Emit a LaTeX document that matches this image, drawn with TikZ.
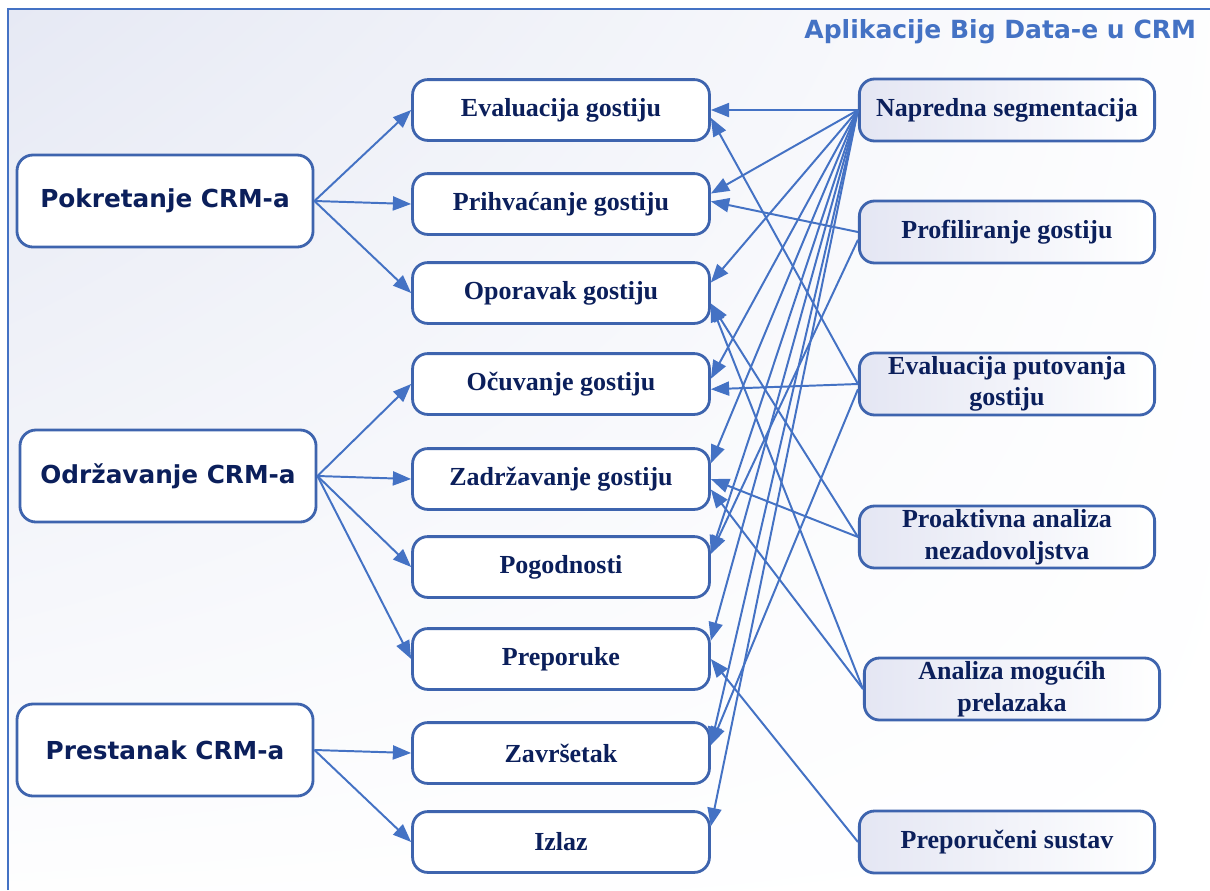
\documentclass[tikz,border=0pt]{standalone}
\usepackage{fontspec}
\setmainfont{Liberation Serif}
\newfontfamily\stagefont{DejaVu Sans}
\usetikzlibrary{arrows.meta,shadings}

\definecolor{lineblue}{HTML}{4472C4}
\definecolor{edgeblue}{HTML}{3E64AE}
\definecolor{navy}{HTML}{0B1F5B}
\definecolor{bgtint}{HTML}{E6E9F4}
\definecolor{boxtint}{HTML}{E4E6F3}

\begin{document}
\begin{tikzpicture}[x=0.025cm,y=-0.025cm,
		stage/.style={draw=edgeblue,line width=2pt,rounded corners=0.4cm,fill=white,minimum width=7.4cm,minimum height=2.3cm,text=navy,font=\stagefont\bfseries\fontsize{17.6}{20}\selectfont},
		phase/.style={draw=edgeblue,line width=2pt,rounded corners=0.38cm,fill=white,minimum width=7.42cm,minimum height=1.52cm,text=navy,font=\bfseries\fontsize{18.5}{21}\selectfont},
		usecase/.style={draw=edgeblue,line width=2pt,rounded corners=0.38cm,left color=boxtint,right color=white,minimum width=7.38cm,minimum height=1.55cm,align=center,inner sep=1pt,text=navy,font=\bfseries\fontsize{18.5}{22.5}\selectfont},
		conn/.style={->,>={Triangle[length=13pt,width=10pt]},draw=lineblue,line width=1.4pt}]
	\useasboundingbox (0,0) rectangle (1210,890);
	\shade[upper left=bgtint,upper right=white!94!bgtint,lower left=white!95!bgtint,lower right=white] (8,9) rectangle (1210,890);
	\draw[lineblue,line width=1pt] (8,890) -- (8,9) -- (1210,9);
	\node[anchor=east,text=lineblue,font=\stagefont\bfseries\fontsize{17.8}{20}\selectfont] (title) at (1201,32) {Aplikacije Big Data-e u CRM};

	% stages of the CRM
	\node[stage] (l1) at (165,201) {Pokretanje CRM-a};
	\node[stage] (l2) at (168,476) {Održavanje CRM-a};
	\node[stage] (l3) at (165,750) {Prestanak CRM-a};

	% phases
	\node[phase] (m1) at (561,110) {Evaluacija gostiju};
	\node[phase] (m2) at (561,204) {Prihvaćanje gostiju};
	\node[phase] (m3) at (561,293) {Oporavak gostiju};
	\node[phase] (m4) at (561,384) {Očuvanje gostiju};
	\node[phase] (m5) at (561,479) {Zadržavanje gostiju};
	\node[phase] (m6) at (561,567) {Pogodnosti};
	\node[phase] (m7) at (561,659) {Preporuke};
	\node[phase] (m8) at (561,753) {Završetak};
	\node[phase] (m9) at (561,842) {Izlaz};

	% big data applications
	\node[usecase] (r1) at (1007,110) {Napredna segmentacija};
	\node[usecase] (r2) at (1007,232) {Profiliranje gostiju};
	\node[usecase] (r3) at (1007,384) {Evaluacija putovanja\\gostiju};
	\node[usecase] (r4) at (1007,537) {Proaktivna analiza\\nezadovoljstva};
	\node[usecase] (r5) at (1012,689) {Analiza mogućih\\prelazaka};
	\node[usecase] (r6) at (1007,842) {Preporučeni sustav};

	\draw (l1.east) edge[conn] (m1.west);
	\draw (l1.east) edge[conn] (m2.west);
	\draw (l1.east) edge[conn] (m3.west);
	\draw (l2.east) edge[conn] (m4.west);
	\draw (l2.east) edge[conn] (m5.west);
	\draw (l2.east) edge[conn] (m6.west);
	\draw (l2.east) edge[conn] (m7.west);
	\draw (l3.east) edge[conn] (m8.west);
	\draw (l3.east) edge[conn] (m9.west);

	% border points by angle, so that the arrow tips do not all meet
	\draw (r1.west) edge[conn] (m1.east);
	\draw (r1.west) edge[conn] (m2.4.5);
	\draw (r1.west) edge[conn] (m3.4);
	\draw (r1.west) edge[conn] (m4.2.3);
	\draw (r1.west) edge[conn] (m5.6.5);
	\draw (r1.west) edge[conn] (m6.5.8);
	\draw (r1.west) edge[conn] (m7.7.3);
	\draw (r1.west) edge[conn] (m8.3);
	\draw (r1.west) edge[conn] (m9.6.5);
	\draw (r2.west) edge[conn] (m2.1.5);
	\draw (r2.183) edge[conn] (m6.5.8);
	\draw (r3.west) edge[conn] (m1.-3);
	\draw (r3.west) edge[conn] (m4.-2);
	\draw (r3.182) edge[conn] (m8.3);
	\draw (r4.west) edge[conn] (m3.-4.5);
	\draw (r4.west) edge[conn] (m5.east);
	\draw (r5.west) edge[conn] (m3.-4.5);
	\draw (r5.west) edge[conn] (m5.-4);
	\draw (r6.west) edge[conn] (m7.east);
\end{tikzpicture}
\end{document}
